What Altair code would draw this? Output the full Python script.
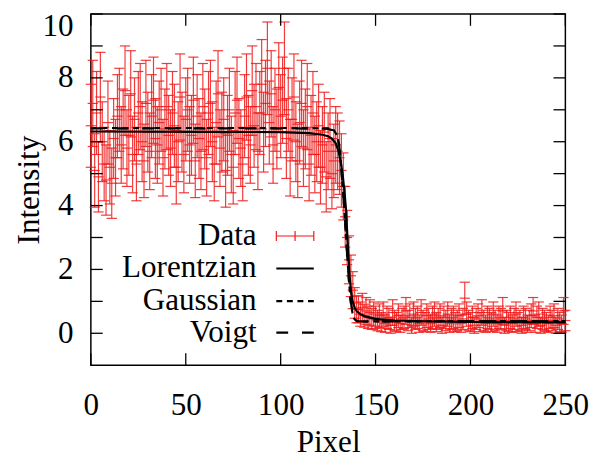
import altair as alt
import pandas as pd

# ---------------- data ----------------
pixel = list(range(251))

intensity = [
    # 0-9
    6.5, 7.2, 5.1, 6.9, 4.9, 7.4, 6.0, 5.3, 4.8, 6.6,
    # 10-19
    5.2, 4.7, 6.1, 5.5, 6.8, 7.0, 5.9, 6.4, 7.6, 5.8,
    # 20-29
    6.2, 7.5, 5.6, 6.7, 5.3, 6.9, 7.1, 6.0, 5.4, 7.2,
    # 30-39
    6.3, 5.7, 6.8, 7.3, 6.1, 5.9, 6.6, 7.0, 5.5, 6.4,
    # 40-49
    7.1, 6.2, 5.8, 6.9, 6.5, 5.2, 6.0, 7.4, 6.3, 5.6,
    # 50-59
    6.7, 7.0, 5.9, 6.2, 7.3, 5.4, 6.8, 6.1, 5.7, 7.1,
    # 60-69
    6.4, 5.5, 6.9, 7.2, 6.0, 5.3, 6.6, 7.5, 5.8, 6.3,
    # 70-79
    6.7, 5.1, 6.2, 7.0, 5.6, 5.2, 6.9, 7.3, 6.1, 5.8,
    # 80-89
    5.3, 6.8, 7.4, 6.2, 5.9, 7.6, 6.5, 7.1, 5.7, 6.9,
    # 90-99
    7.8, 6.3, 7.2, 8.3, 6.6, 7.5, 5.9, 7.0, 6.4, 7.7,
    # 100-109
    6.8, 7.3, 8.3, 6.1, 7.0, 5.5, 6.7, 7.4, 6.0, 5.4,
    # 110-119
    6.6, 7.2, 5.8, 6.4, 7.1, 5.3, 6.2, 6.9, 5.6, 6.0,
    # 120-129
    6.5, 5.2, 5.9, 6.3, 4.9, 5.7, 6.1, 5.0, 5.4, 5.9,
    # 130-140
    5.7, 5.5, 5.1, 4.6, 3.65, 3.0, 2.3, 1.8, 1.35, 0.95, 0.75,
    # 141-150
    0.75, 0.6, 0.8, 0.55, 0.7, 0.5, 0.65, 0.45, 0.6, 0.5,
    # 151-160
    0.4, 0.55, 0.35, 0.6, 0.3, 0.5, 0.45, 0.25, 0.65, 0.4,
    # 161-170
    0.35, 0.55, 0.3, 0.45, 0.5, 0.7, 0.4, 0.55, 0.25, 0.6,
    # 171-180
    0.45, 0.5, 0.3, 0.65, 0.4, 0.35, 0.55, 0.45, 0.3, 0.5,
    # 181-190
    0.6, 0.35, 0.45, 0.55, 0.25, 0.5, 0.4, 0.6, 0.3, 0.45,
    # 191-200
    0.5, 0.35, 0.4, 0.55, 0.3, 0.45, 1.1, 0.6, 0.4, 0.35,
    # 201-210
    0.5, 0.25, 0.45, 0.55, 0.35, 0.65, 0.4, 0.3, 0.5, 0.45,
    # 211-220
    0.35, 0.6, 0.4, 0.3, 0.5, 0.45, 0.7, 0.25, 0.4, 0.35,
    # 221-230
    0.5, 0.3, 0.45, 0.6, 0.35, 0.4, 0.25, 0.5, 0.45, 0.3,
    # 231-240
    0.4, 0.55, 0.7, 0.3, 0.5, 0.6, 0.25, 0.45, 0.4, 0.35,
    # 241-250
    0.3, 0.5, 0.4, 0.55, 0.25, 0.45, 0.35, 0.3, 0.7, 0.4,
]

error = [
    1.3, 1.35, 1.15, 1.3, 1.1, 1.4, 1.25, 1.15, 1.1, 1.3,
    1.15, 1.1, 1.25, 1.2, 1.3, 1.3, 1.2, 1.25, 1.4, 1.2,
    1.25, 1.35, 1.2, 1.3, 1.15, 1.3, 1.35, 1.25, 1.15, 1.35,
    1.25, 1.2, 1.3, 1.35, 1.25, 1.2, 1.3, 1.3, 1.2, 1.25,
    1.35, 1.25, 1.2, 1.3, 1.3, 1.15, 1.25, 1.35, 1.25, 1.2,
    1.3, 1.3, 1.2, 1.25, 1.35, 1.15, 1.3, 1.25, 1.2, 1.35,
    1.25, 1.2, 1.3, 1.35, 1.25, 1.15, 1.3, 1.35, 1.2, 1.25,
    1.3, 1.15, 1.25, 1.3, 1.2, 1.15, 1.3, 1.35, 1.25, 1.2,
    1.15, 1.3, 1.35, 1.25, 1.2, 1.4, 1.3, 1.35, 1.2, 1.3,
    1.4, 1.25, 1.35, 1.45, 1.3, 1.35, 1.2, 1.3, 1.25, 1.4,
    1.3, 1.35, 1.45, 1.25, 1.3, 1.2, 1.3, 1.35, 1.25, 1.15,
    1.3, 1.35, 1.2, 1.25, 1.35, 1.15, 1.25, 1.3, 1.2, 1.25,
    1.3, 1.15, 1.2, 1.25, 1.1, 1.2, 1.25, 1.1, 1.15, 1.2,
    1.2, 1.15, 1.15, 1.05, 0.95, 0.85, 0.75, 0.65, 0.58, 0.48, 0.42,
    0.42, 0.38, 0.45, 0.36, 0.42, 0.35, 0.4, 0.33, 0.38, 0.35,
    0.32, 0.37, 0.3, 0.38, 0.27, 0.35, 0.33, 0.25, 0.4, 0.32,
    0.3, 0.37, 0.27, 0.33, 0.35, 0.42, 0.32, 0.37, 0.25, 0.38,
    0.33, 0.35, 0.27, 0.4, 0.32, 0.3, 0.37, 0.33, 0.27, 0.35,
    0.38, 0.3, 0.33, 0.37, 0.25, 0.35, 0.32, 0.38, 0.27, 0.33,
    0.35, 0.3, 0.32, 0.37, 0.27, 0.33, 0.5, 0.38, 0.32, 0.3,
    0.35, 0.25, 0.33, 0.37, 0.3, 0.4, 0.32, 0.27, 0.35, 0.33,
    0.3, 0.38, 0.32, 0.27, 0.35, 0.33, 0.42, 0.25, 0.32, 0.3,
    0.35, 0.27, 0.33, 0.38, 0.3, 0.32, 0.25, 0.35, 0.33, 0.27,
    0.32, 0.37, 0.42, 0.27, 0.35, 0.38, 0.25, 0.33, 0.32, 0.3,
    0.27, 0.35, 0.32, 0.37, 0.25, 0.33, 0.3, 0.27, 0.42, 0.32,
]

# fitted curves
lor_x = [0, 60, 100, 115, 122, 125, 127, 129, 130.6, 131.7, 132.7, 133.6, 134.4,
         135.3, 136.3, 137.1, 137.9, 139, 140.1, 142, 144.5, 149.7, 160, 180, 210, 250]
lor_y = [6.32, 6.31, 6.30, 6.27, 6.22, 6.17, 6.1, 5.95, 5.68, 5.35, 4.95, 4.45, 3.9,
         2.87, 1.82, 1.3, 1.0, 0.8, 0.69, 0.6, 0.53, 0.45, 0.4, 0.37, 0.35, 0.34]

gau_x = [0, 100, 125, 128, 129.7, 130.8, 131.8, 132.8, 133.8, 134.8, 135.8, 136.8,
         137.8, 138.8, 139.8, 141, 145, 200, 250]
gau_y = [6.43, 6.43, 6.42, 6.36, 6.2, 5.9, 5.3, 4.5, 3.7, 2.7, 1.8, 1.05,
         0.65, 0.45, 0.39, 0.37, 0.37, 0.38, 0.38]

voi_x = [0, 100, 124, 127.5, 129.5, 130.7, 131.7, 132.7, 133.7, 134.7, 135.7, 136.7,
         137.7, 138.7, 139.8, 141, 145, 200, 250]
voi_y = [6.42, 6.42, 6.41, 6.36, 6.22, 5.95, 5.35, 4.55, 3.75, 2.75, 1.85, 1.1,
         0.68, 0.47, 0.4, 0.38, 0.37, 0.38, 0.38]

x_ticks = [0, 50, 100, 150, 200, 250]
y_labels = [0, 2, 4, 6, 8, 10]
y_ticks = [0, 1, 2, 3, 4, 5, 6, 7, 8, 9, 10]

# ---------------- chart ----------------
W, H = 481, 356
FONT = "Liberation Serif, Times New Roman, Tinos, DejaVu Serif, serif"
FS = 31.5
RED = "#f01818"

x_axis = alt.Axis(values=x_ticks, ticks=False, domain=False, grid=False,
                  labelFlush=False, labelPadding=25, titlePadding=6,
                  labelFont=FONT, labelFontSize=FS, labelColor="black",
                  titleFont=FONT, titleFontSize=FS, titleFontWeight="normal",
                  titleColor="black", format="d")
y_axis = alt.Axis(values=y_labels, ticks=False, domain=False, grid=False,
                  labelFlush=True, labelFlushOffset=3, labelPadding=18,
                  titlePadding=-3,
                  labelFont=FONT, labelFontSize=FS, labelColor="black",
                  titleFont=FONT, titleFontSize=FS, titleFontWeight="normal",
                  titleColor="black", format="d")

xs = alt.Scale(domain=[0, 250], nice=False, zero=False)
ys = alt.Scale(domain=[-1, 10], nice=False, zero=False)


def X(f):
    return alt.X(f, type="quantitative", scale=xs, axis=x_axis, title="Pixel")


def Y(f):
    return alt.Y(f, type="quantitative", scale=ys, axis=y_axis, title="Intensity")


df = pd.DataFrame({"x": pixel, "y": intensity, "e": error})
base = alt.Chart(df).transform_calculate(
    lo="datum.y - datum.e", hi="datum.y + datum.e",
    xl="datum.x - 2.7", xr="datum.x + 2.7",
)
rule_kw = dict(color=RED, strokeWidth=1.2, opacity=0.85)
vbar = base.mark_rule(**rule_kw).encode(x=X("x"), y=Y("lo"), y2="hi:Q")
cap_hi = base.mark_rule(**rule_kw).encode(x=X("xl"), x2="xr:Q", y=Y("hi"))
cap_lo = base.mark_rule(**rule_kw).encode(x=X("xl"), x2="xr:Q", y=Y("lo"))
hbar = base.mark_rule(**rule_kw).encode(x=X("xl"), x2="xr:Q", y=Y("y"))

lor = alt.Chart(pd.DataFrame({"x": lor_x, "y": lor_y})).mark_line(
    color="black", strokeWidth=2.2).encode(x=X("x"), y=Y("y"))
gau = alt.Chart(pd.DataFrame({"x": gau_x, "y": gau_y})).mark_line(
    color="black", strokeWidth=2.2, strokeDash=[6, 4.7]).encode(x=X("x"), y=Y("y"))
voi = alt.Chart(pd.DataFrame({"x": voi_x, "y": voi_y})).mark_line(
    color="black", strokeWidth=2.2, strokeDash=[12, 14]).encode(x=X("x"), y=Y("y"))

# inner (gnuplot-style) tick marks on all four sides
yt = alt.Chart(pd.DataFrame({"v": y_ticks}))
xt = alt.Chart(pd.DataFrame({"v": x_ticks}))
tk = dict(color="black", strokeWidth=1.3)
yl = yt.mark_rule(**tk).encode(y=Y("v"), x=alt.value(0), x2=alt.value(12))
yr = yt.mark_rule(**tk).encode(y=Y("v"), x=alt.value(W - 12), x2=alt.value(W))
xb = xt.mark_rule(**tk).encode(x=X("v"), y=alt.value(H - 12), y2=alt.value(H))
xtop = xt.mark_rule(**tk).encode(x=X("v"), y=alt.value(0), y2=alt.value(12))

# key
one = alt.Chart(pd.DataFrame({"k": [0]}))
names = ["Data", "Lorentzian", "Gaussian", "Voigt"]
key_y = [225, 258, 291, 323]
txt = [one.mark_text(font=FONT, fontSize=FS, align="right", baseline="middle",
                     color="black").encode(x=alt.value(168), y=alt.value(yy),
                                           text=alt.value(nm))
       for nm, yy in zip(names, key_y)]
k_data = one.mark_rule(color=RED, strokeWidth=1.2).encode(
    x=alt.value(188), x2=alt.value(226), y=alt.value(key_y[0]))
k_data_t = [one.mark_rule(color=RED, strokeWidth=1.2).encode(
    x=alt.value(xx), y=alt.value(key_y[0] - 5), y2=alt.value(key_y[0] + 5))
    for xx in (188, 207, 226)]
k_lor = one.mark_rule(color="black", strokeWidth=2.2).encode(
    x=alt.value(188), x2=alt.value(226), y=alt.value(key_y[1]))
k_gau = one.mark_rule(color="black", strokeWidth=2.2, strokeDash=[6, 4.7]).encode(
    x=alt.value(188), x2=alt.value(226), y=alt.value(key_y[2]))
k_voi = one.mark_rule(color="black", strokeWidth=2.2, strokeDash=[12, 14]).encode(
    x=alt.value(188), x2=alt.value(226), y=alt.value(key_y[3]))

chart = alt.layer(
    vbar, cap_hi, cap_lo, hbar, lor, gau, voi, yl, yr, xb, xtop,
    *txt, k_data, *k_data_t, k_lor, k_gau, k_voi,
).properties(
    width=W, height=H,
    autosize=alt.AutoSizeParams(type="none"),
    padding={"left": 84, "top": 3, "right": 27, "bottom": 93},
    background="white",
).configure_view(stroke="black", strokeWidth=1.5)

chart.save("out.html", embed_options={"renderer": "svg", "actions": False})
